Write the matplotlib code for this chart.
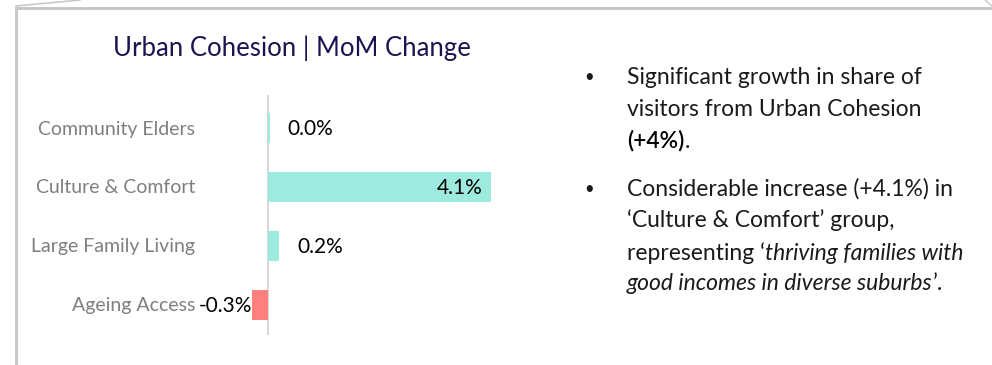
import matplotlib
matplotlib.use("Agg")
import matplotlib.pyplot as plt
from matplotlib.lines import Line2D

plt.rcParams["font.family"] = ["Lato", "DejaVu Sans"]

# MoM change (%) by segment, top to bottom
segments = ["Community Elders", "Culture & Comfort", "Large Family Living", "Ageing Access"]
changes = [0.03, 4.1, 0.2, -0.3]

TEAL, RED = "#9deadf", "#ff7f7f"
LABEL_GREY, FRAME = "#7f7f7f", "#c8c8c8"
TITLE_INK, TEXT_INK = "#1e1250", "#1a1a1a"

W, H = 992, 365
fig = plt.figure(figsize=(W / 100, H / 100), dpi=100, facecolor="white")


def px(x, y):
    # pixel position (top-left origin) -> figure fraction
    return x / W, 1 - y / H


# slide panel frame
fig.add_artist(Line2D([16 / W, 1.0], [1 - 8 / H] * 2, color=FRAME, lw=2.2))
fig.add_artist(Line2D([16 / W] * 2, [0, 1 - 8 / H], color=FRAME, lw=2.2))
fig.add_artist(Line2D([16 / W, 80 / W], [1 - 6 / H, 1.0], color=FRAME, lw=1.2))
fig.add_artist(Line2D([985 / W, 1.0], [1.0, 1 - 6 / H], color=FRAME, lw=1.0))

# bar chart area: zero line sits at x=268px, 54.4px per percentage point
unit = 54.4
xmin, xmax = -1.0, 4.6
left = 268 + xmin * unit
right = 268 + xmax * unit
top, bottom = 95, 335
ax = fig.add_axes([left / W, 1 - bottom / H, (right - left) / W, (bottom - top) / H])
ax.set_xlim(xmin, xmax)
ax.set_ylim(3.51, -0.56)
ax.axis("off")

ypos = list(range(len(segments)))
colors = [TEAL if v >= 0 else RED for v in changes]
ax.barh(ypos, changes, height=0.5, color=colors, zorder=2)
ax.axvline(0, color="#d9d9d9", lw=1.5, zorder=1)

for y, name, v in zip(ypos, segments, changes):
    ax.annotate(name, xy=(0, y), xytext=(-73, -1), textcoords="offset pixels",
                ha="right", va="center", fontsize=14, color=LABEL_GREY)
    lab = f"{v:.1f}%"
    if v < 0:
        ax.annotate(lab, xy=(v, y), xytext=(0, -1), textcoords="offset pixels",
                    ha="right", va="center", fontsize=15, color="black")
    elif v > 1:
        ax.annotate(lab, xy=(v, y), xytext=(-9, -1), textcoords="offset pixels",
                    ha="right", va="center", fontsize=15, color="black")
    else:
        ax.annotate(lab, xy=(v, y), xytext=(18, -1), textcoords="offset pixels",
                    ha="left", va="center", fontsize=15, color="black")

fig.text(*px(292, 48), "Urban Cohesion | MoM Change", ha="center", va="center",
         fontsize=18.5, color=TITLE_INK)

# commentary bullets
FS = 16.5
bullet_x, text_x = 584, 627
lines = [
    (77, True, [("Significant growth in share of", "normal", TEXT_INK)]),
    (109, False, [("visitors from Urban Cohesion", "normal", TEXT_INK)]),
    (141, False, [("(+4%)", "medium", "black"), (".", "normal", TEXT_INK)]),
    (189, True, [("Considerable increase (+4.1%) in", "normal", TEXT_INK)]),
    (220, False, [("\u2018Culture & Comfort\u2019 group,", "normal", TEXT_INK)]),
    (253, False, [("representing \u2018", "normal", TEXT_INK),
                  ("thriving families with", "italic", TEXT_INK)]),
    (284, False, [("good incomes in diverse suburbs", "italic", TEXT_INK),
                  ("\u2019.", "normal", TEXT_INK)]),
]
renderer = fig.canvas.get_renderer()
for y, bullet, parts in lines:
    if bullet:
        fig.text(*px(bullet_x, y), "\u2022", ha="left", va="center",
                 fontsize=12, color=TEXT_INK)
    x = text_x
    for s, style, col in parts:
        weight = "normal"
        if style == "medium":
            style, weight = "normal", "semibold"
        t = fig.text(*px(x, y), s, ha="left", va="center", fontsize=FS,
                     style=style, weight=weight, color=col)
        x = t.get_window_extent(renderer).x1

fig.savefig("out.png", dpi=100, facecolor="white")
